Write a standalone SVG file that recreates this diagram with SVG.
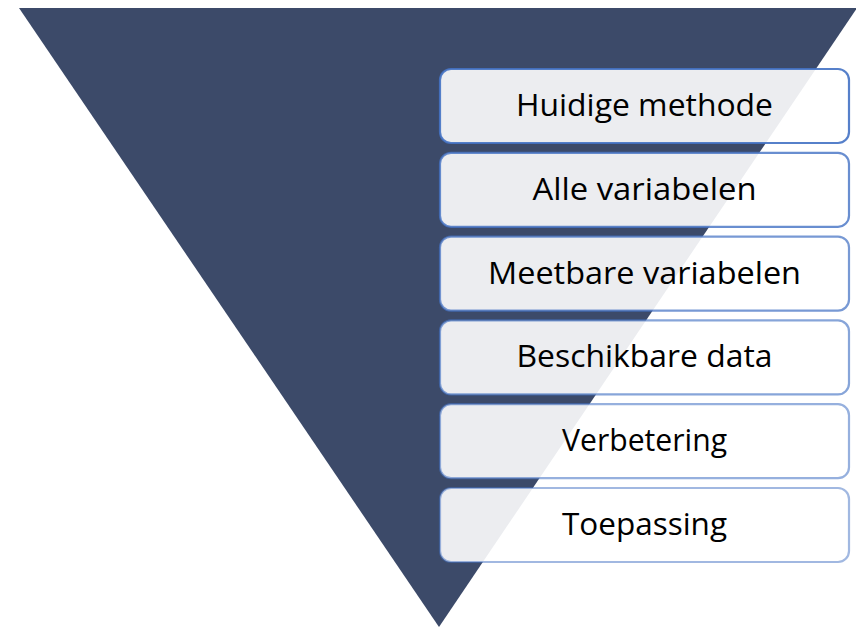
<svg xmlns="http://www.w3.org/2000/svg" width="856" height="628" viewBox="0 0 856 628">
<style>
.box{fill:#ffffff;fill-opacity:0.9;stroke:#4472C4;stroke-width:2.2}
.lbl{font-family:"Open Sans","Liberation Sans",sans-serif;font-size:30.5px;fill:#000000;text-anchor:middle}
</style>
<rect width="856" height="628" fill="#ffffff"/>
<g id="triangle"><polygon points="19,8 857,8 439,627" fill="#3C4A69"/></g>
<g id="connectors"></g>
<g id="n1"><rect class="box" x="440" y="69" width="409" height="74" rx="11" stroke-opacity="0.9"/><text class="lbl" x="644.5" y="116" textLength="257" lengthAdjust="spacingAndGlyphs">Huidige methode</text></g>
<g id="n2"><rect class="box" x="440" y="152.8" width="409" height="74" rx="11" stroke-opacity="0.8"/><text class="lbl" x="644.5" y="199.8" textLength="224" lengthAdjust="spacingAndGlyphs">Alle variabelen</text></g>
<g id="n3"><rect class="box" x="440" y="236.6" width="409" height="74" rx="11" stroke-opacity="0.72"/><text class="lbl" x="644.5" y="283.6" textLength="313" lengthAdjust="spacingAndGlyphs">Meetbare variabelen</text></g>
<g id="n4"><rect class="box" x="440" y="320.4" width="409" height="74" rx="11" stroke-opacity="0.64"/><text class="lbl" x="644.5" y="367.4" textLength="256" lengthAdjust="spacingAndGlyphs">Beschikbare data</text></g>
<g id="n5"><rect class="box" x="440" y="404.2" width="409" height="74" rx="11" stroke-opacity="0.56"/><text class="lbl" x="644.5" y="451.2" textLength="165" lengthAdjust="spacingAndGlyphs">Verbetering</text></g>
<g id="n6"><rect class="box" x="440" y="488" width="409" height="74" rx="11" stroke-opacity="0.5"/><text class="lbl" x="644.5" y="535" textLength="165" lengthAdjust="spacingAndGlyphs">Toepassing</text></g>
</svg>
